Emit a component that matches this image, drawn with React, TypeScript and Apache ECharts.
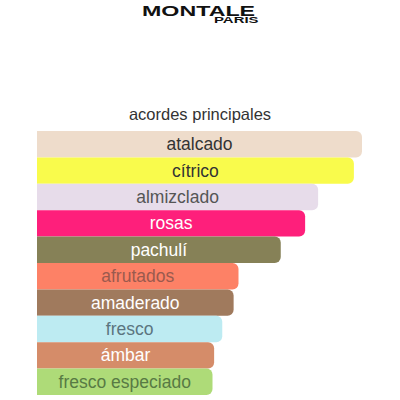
import React, { useEffect, useRef } from 'react';
import * as echarts from 'echarts';

// acordes principales (Montale)
const accords = ['atalcado', 'cítrico', 'almizclado', 'rosas', 'pachulí', 'afrutados', 'amaderado', 'fresco', 'ámbar', 'fresco especiado'];
const strength = [100, 97.5, 86.5, 82.5, 75, 62, 60.5, 57, 54.5, 54];
const barColors = ['#EEDCCB', '#F9FB4C', '#E7DCEA', '#FE1F7B', '#868157', '#FD8166', '#A07A5D', '#BDEBF2', '#D58C69', '#AEDB78'];
const labelColors = ['#333333', '#333333', '#555555', '#FFFFFF', '#FFFFFF', '#9A5A4E', '#FFFFFF', '#5B7580', '#FFFFFF', '#587A44'];

const App: React.FC = () => {
    const chartRef: any = useRef();

    useEffect(() => {
        document.body.style.margin = '0';
        const chart = echarts.init(chartRef.current, null, { renderer: 'svg' });
        const option = {
            animation: false,
            backgroundColor: '#ffffff',
            title: {
                text: 'acordes principales',
                left: 'center',
                top: 100,
                textStyle: { fontFamily: 'Liberation Sans', fontSize: 16.5, fontWeight: 'normal', color: '#333' }
            },
            graphic: [
                {
                    type: 'text', x: 142, y: 4, scaleX: 1.66,
                    style: { text: 'MONTALE', fontFamily: 'Liberation Sans', fontWeight: 'bold', fontSize: 14, fill: '#111' }
                },
                {
                    type: 'text', x: 214, y: 16, scaleX: 1.66,
                    style: { text: 'PARIS', fontFamily: 'Liberation Sans', fontWeight: 'bold', fontSize: 9, fill: '#111' }
                }
            ],
            grid: { left: 37, right: 38, top: 131, bottom: 5 },
            xAxis: { type: 'value', min: 0, max: 100, show: false },
            yAxis: { type: 'category', data: accords, inverse: true, show: false },
            series: [{
                type: 'bar',
                barCategoryGap: 0,
                data: strength.map((v, i) => ({
                    value: v,
                    itemStyle: { color: barColors[i], borderRadius: [0, 6, 6, 0] },
                    label: { color: labelColors[i] }
                })),
                label: {
                    show: true,
                    position: 'inside',
                    formatter: (p: any) => accords[p.dataIndex],
                    fontFamily: 'Liberation Sans',
                    fontSize: 17.5
                }
            }]
        };
        chart.setOption(option);
        return () => {
            chart.dispose();
        };
    }, []);

    return <div ref={chartRef} style={{ position: 'fixed', left: 0, top: 0, width: 400, height: 400 }}></div>;
};

export default App;
